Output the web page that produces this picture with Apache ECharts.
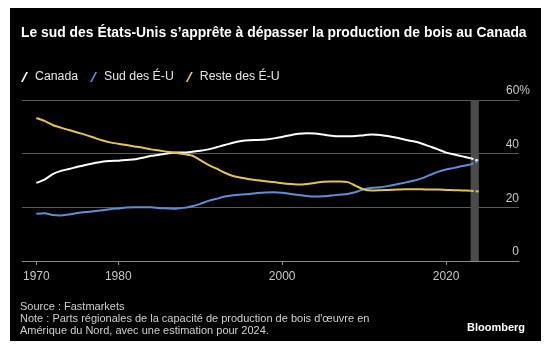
<!DOCTYPE html>
<html>
<head>
<meta charset="utf-8">
<script src="https://cdn.jsdelivr.net/npm/echarts@6/dist/echarts.min.js"></script>
<style>
html,body{margin:0;padding:0;background:#fff;}
#chart{width:546px;height:348px;}
</style>
</head>
<body>
<div id="chart"></div>
<script>
const titleText = 'Le sud des États-Unis s’apprête à dépasser la production de bois au Canada';
const seriesNames = ['Canada', 'Sud des É-U', 'Reste des É-U'];
const years = [1970,1971,1972,1973,1974,1975,1976,1977,1978,1979,
  1980,1981,1982,1983,1984,1985,1986,1987,1988,1989,
  1990,1991,1992,1993,1994,1995,1996,1997,1998,1999,
  2000,2001,2002,2003,2004,2005,2006,2007,2008,2009,
  2010,2011,2012,2013,2014,2015,2016,2017,2018,2019,
  2020,2021,2022,2023,2024];
const canada = [29.1,30.3,32.4,33.6,34.3,35.1,35.8,36.4,37.0,37.3,
  37.4,37.6,37.9,38.5,39.2,39.6,40.1,40.4,40.4,40.7,
  41.1,41.6,42.4,43.2,44.1,44.7,45.0,45.1,45.3,45.7,
  46.2,46.9,47.4,47.6,47.5,47.1,46.7,46.5,46.5,46.6,
  46.9,47.1,47.0,46.5,45.9,45.2,44.6,43.8,42.7,41.6,
  40.4,39.7,39.0,38.3,37.3];
const sud = [17.6,17.8,17.1,17.0,17.3,17.9,18.3,18.5,18.9,19.3,
  19.6,19.9,20.0,20.0,20.0,19.7,19.6,19.5,19.8,20.4,
  21.3,22.4,23.2,24.0,24.5,24.8,25.0,25.3,25.5,25.6,
  25.4,25.0,24.6,24.2,24.0,24.1,24.4,24.7,25.0,25.7,
  26.8,27.3,27.5,28.0,28.6,29.2,29.9,30.8,32.0,33.2,
  34.1,34.7,35.4,36.0,37.3];
const reste = [53.3,52.2,50.7,49.7,48.8,47.9,47.0,46.0,45.0,44.2,
  43.7,43.2,42.7,42.2,41.6,41.2,40.7,40.3,39.9,39.3,
  37.6,35.8,34.4,32.9,31.7,31.0,30.5,30.1,29.7,29.4,
  29.0,28.7,28.5,28.7,29.1,29.5,29.6,29.6,29.4,28.0,
  26.6,26.3,26.4,26.5,26.6,26.7,26.7,26.7,26.6,26.6,
  26.5,26.4,26.3,26.2,25.9];
const estimateFrom = 2023;   // last year of actual data; 2024 is the estimate
const xTickYears = [1970, 1980, 2000, 2020];
const yTicks = [0, 20, 40, 60];
const footerSource = 'Source : Fastmarkets';
const footerNote1 = 'Note : Parts régionales de la capacité de production de bois d\'œuvre en';
const footerNote2 = 'Amérique du Nord, avec une estimation pour 2024.';
const brand = 'Bloomberg';

const colors = ['#ffffff', '#5b8fd8', '#e3c44c'];
const values = [canada, sud, reste];
const FONT = '"Liberation Sans", Arial, Helvetica, sans-serif';

const cut = years.indexOf(estimateFrom);
const series = [];
values.forEach((vals, k) => {
  const pts = years.map((y, i) => [y, vals[i]]);
  series.push({
    name: seriesNames[k], type: 'line', z: 3,
    data: pts.slice(0, cut + 1), smooth: 0.25, showSymbol: false, symbol: 'none',
    lineStyle: {color: colors[k], width: 2}, itemStyle: {color: colors[k]}
  });
  series.push({
    name: seriesNames[k], type: 'line', z: 3,
    data: pts.slice(cut), showSymbol: false, symbol: 'none',
    lineStyle: {color: colors[k], width: 2, type: [3, 2]}, itemStyle: {color: colors[k]}
  });
});
series.push({
  name: 'band', type: 'line', data: [], z: 1, silent: true,
  markArea: {silent: true, itemStyle: {color: '#4b4b4b'},
    data: [[{xAxis: estimateFrom}, {xAxis: years[years.length - 1]}]]}
});

const chart = echarts.init(document.getElementById('chart'), null, {renderer: 'canvas'});
chart.setOption({
  backgroundColor: '#ffffff',
  animation: false,
  textStyle: {fontFamily: FONT},
  graphic: [
    {type: 'rect', z: -10, zlevel: 0, shape: {x: 10, y: 8, width: 531, height: 333}, style: {fill: '#000000'}},
    {type: 'text', left: 20, top: 301, style: {text: footerSource, fill: '#cfcfcf', font: '11px ' + FONT}},
    {type: 'text', left: 20, top: 313, style: {text: footerNote1, fill: '#cfcfcf', font: '11px ' + FONT}},
    {type: 'text', left: 20, top: 325, style: {text: footerNote2, fill: '#cfcfcf', font: '11px ' + FONT}},
    {type: 'text', left: 467, top: 322, style: {text: brand, fill: '#ffffff', font: 'bold 11px ' + FONT}}
  ],
  title: {
    text: titleText, left: 16, top: 21,
    textStyle: {color: '#ffffff', fontSize: 13.9, fontWeight: 'bold', fontFamily: FONT}
  },
  legend: {
    data: seriesNames.map((n, k) => ({name: n, icon: 'path://M0,10 L1.8,10 L7,0 L5.2,0 Z', itemStyle: {color: colors[k]}})),
    left: 21, top: 71, padding: 0, itemWidth: 7, itemHeight: 10, itemGap: 12,
    textStyle: {color: '#e6e6e6', fontSize: 12.3, fontFamily: FONT, padding: [0, 0, 0, 2]},
    selectedMode: false
  },
  grid: {left: 22, right: 27, top: 100, bottom: 87, containLabel: false},
  xAxis: {
    type: 'value', min: 1968.25, max: 2028.9,
    axisLine: {show: true, lineStyle: {color: '#8c8c8c', width: 1}},
    axisTick: {show: true, length: 4, lineStyle: {color: '#8c8c8c'}, customValues: xTickYears},
    axisLabel: {color: '#c8c8c8', fontSize: 12, margin: 10, customValues: xTickYears, formatter: v => String(v)},
    splitLine: {show: false}
  },
  yAxis: {
    type: 'value', position: 'right', min: 0, max: 60, interval: 20,
    axisLine: {show: false}, axisTick: {show: false},
    splitLine: {show: true, lineStyle: {color: '#5a5a5a', width: 1}},
    axisLabel: {
      align: 'right', verticalAlign: 'bottom', margin: 11,
      formatter: v => v === 60 ? '{p|' + v + '%}' : '{n|' + v + '}',
      rich: {
        n: {color: '#c8c8c8', fontSize: 12, fontFamily: FONT, padding: [0, 11, 3, 0]},
        p: {color: '#c8c8c8', fontSize: 12, fontFamily: FONT, padding: [0, 0, 3, 0]}
      }
    }
  },
  series: series
});
</script>
</body>
</html>
